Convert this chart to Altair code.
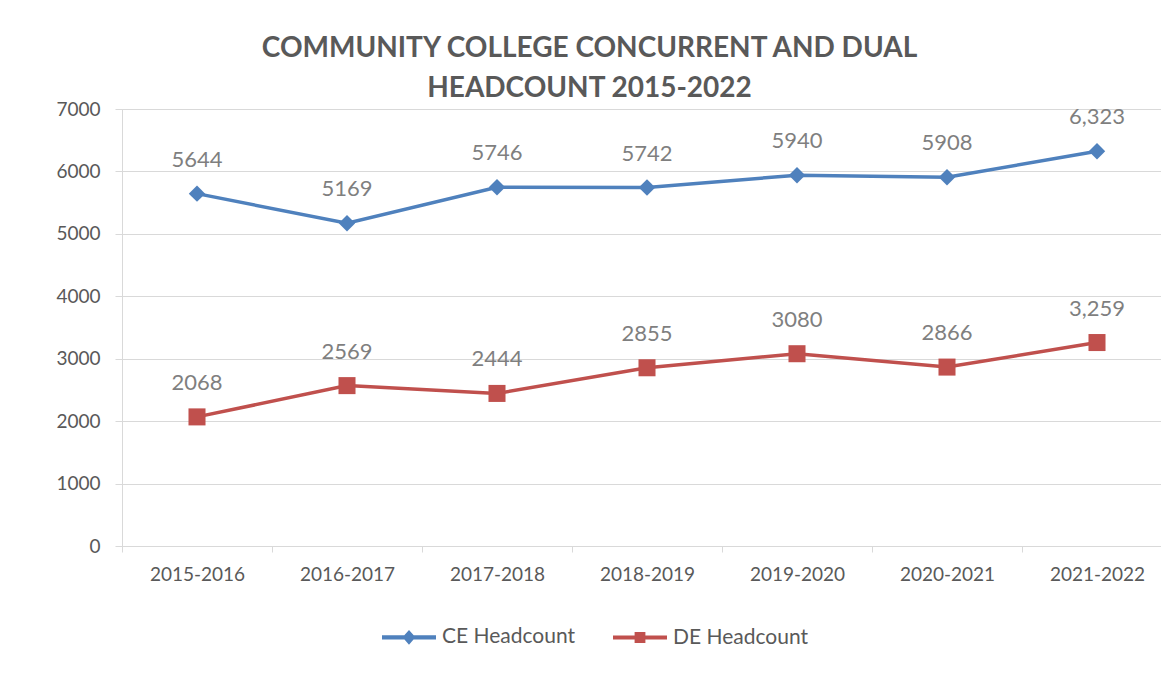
import altair as alt
import pandas as pd

categories = ["2015-2016", "2016-2017", "2017-2018", "2018-2019", "2019-2020", "2020-2021", "2021-2022"]
ce_values = [5644, 5169, 5746, 5742, 5940, 5908, 6323]
de_values = [2068, 2569, 2444, 2855, 3080, 2866, 3259]
ce_labels = ["5644", "5169", "5746", "5742", "5940", "5908", "6,323"]
de_labels = ["2068", "2569", "2444", "2855", "3080", "2866", "3,259"]
series_names = ["CE Headcount", "DE Headcount"]
series_colors = ["#4f81bd", "#c0504d"]
series_shapes = ["diamond", "square"]
series_sizes = [270, 290]

rows = []
for c, v, l in zip(categories, ce_values, ce_labels):
    rows.append({"year": c, "value": v, "label": l, "series": series_names[0]})
for c, v, l in zip(categories, de_values, de_labels):
    rows.append({"year": c, "value": v, "label": l, "series": series_names[1]})
df = pd.DataFrame(rows)

FONT = "Lato"
GRAY = "#595959"
GRID = "#d9d9d9"

# legend symbols: a line with a marker in the middle
legend_paths = [
    "M-1,-0.075H1V0.075H-1Z M0,-0.27L0.24,0L0,0.27L-0.24,0Z",
    "M-1,-0.075H1V0.075H-1Z M-0.2,-0.2H0.2V0.2H-0.2Z",
]

x_enc = alt.X(
    "year:N",
    sort=categories,
    scale=alt.Scale(range=[0, 1050], paddingInner=0, paddingOuter=0),
    axis=alt.Axis(
        title=None, labelAngle=0, tickBand="extent", tickSize=6, tickColor=GRID,
        domainColor=GRID, labelColor=GRAY, labelFont=FONT, labelFontSize=19,
        labelPadding=13, grid=False,
    ),
)
y_enc = alt.Y(
    "value:Q",
    scale=alt.Scale(domain=[0, 7000], nice=False),
    axis=alt.Axis(
        title=None, values=list(range(0, 7001, 1000)), format="d", tickSize=7,
        tickColor=GRID, domainColor=GRID, gridColor=GRID, labelColor=GRAY,
        labelFont=FONT, labelFontSize=19, labelPadding=15,
    ),
)

base = alt.Chart(df)

layers = []
for name, col in zip(series_names, series_colors):
    layers.append(
        base.transform_filter(alt.datum.series == name)
        .mark_line(strokeWidth=3.5, color=col)
        .encode(x=x_enc, y=y_enc)
    )
for name, col, shp, sz in zip(series_names, series_colors, series_shapes, series_sizes):
    layers.append(
        base.transform_filter(alt.datum.series == name)
        .mark_point(shape=shp, filled=True, size=sz, opacity=1, color=col)
        .encode(x=x_enc, y=y_enc)
    )

legend_def = alt.Legend(
    title=None, orient="none", direction="horizontal", legendX=259, legendY=500,
    symbolSize=2916, symbolOpacity=1, labelFont=FONT, labelFontSize=21,
    labelColor=GRAY, labelOffset=5, columnPadding=34, padding=0,
)

legend_layer = base.mark_point(filled=True, opacity=0).encode(
    x=x_enc, y=y_enc,
    color=alt.Color("series:N", scale=alt.Scale(domain=series_names, range=series_colors), legend=legend_def),
    shape=alt.Shape("series:N", scale=alt.Scale(domain=series_names, range=legend_paths), legend=legend_def),
)
layers.append(legend_layer)

labels = base.mark_text(
    dy=-27, baseline="alphabetic", align="center", font=FONT, fontSize=22, color="#7f7f7f"
).encode(x=x_enc, y=y_enc, text="label:N")
layers.append(labels)

chart = alt.layer(*layers).properties(
    width=1039,
    height=437,
    padding={"left": 114, "top": 101, "right": 0, "bottom": 110},
    autosize=alt.AutoSizeParams(type="none"),
    title=alt.Title(
        ["COMMUNITY COLLEGE CONCURRENT AND DUAL", "HEADCOUNT 2015-2022"],
        font=FONT, fontSize=28, fontWeight="bold", color=GRAY, lineHeight=40,
        anchor="middle", dx=-52, dy=9, offset=6,
    ),
).configure_view(stroke=None).configure(background="white")

chart.save("out.html", embed_options={"renderer": "svg", "actions": False})
